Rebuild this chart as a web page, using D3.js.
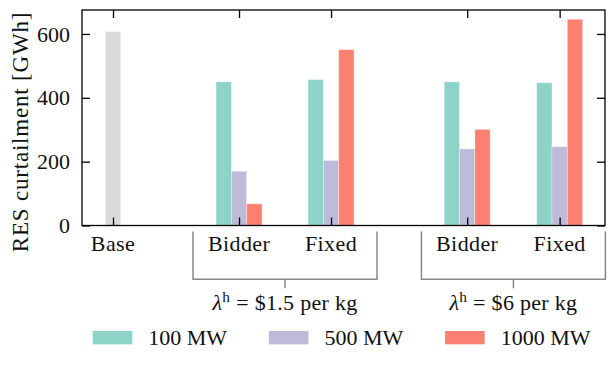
<!DOCTYPE html>
<html>
<head>
<meta charset="utf-8">
<script src="https://cdn.jsdelivr.net/npm/d3@7"></script>
<style>
  html, body { margin: 0; padding: 0; background: #fff; }
  text { font-family: "Liberation Serif", "Times New Roman", serif; fill: #111; }
</style>
</head>
<body>
<svg id="chart" width="615" height="366"></svg>
<script>
// ---- data ----
const categories = ["Base", "Bidder", "Fixed", "Bidder", "Fixed"];
const baseValues = [607, null, null, null, null];
const series100 = [null, 450, 457, 450, 447];
const series500 = [null, 170, 204, 240, 247];
const series1000 = [null, 68, 551, 301, 646];
const seriesNames = ["100 MW", "500 MW", "1000 MW"];
const yTicks = [0, 200, 400, 600];
const groupPrices = ["$1.5 per kg", "$6 per kg"];
const groupMembers = [[1, 2], [3, 4]];

// ---- layout ----
const catPos = [0, 1.37, 2.37, 3.85, 4.855];
const colors = ["#8dd3c7", "#bebada", "#fb8072"];
const baseColor = "#d9d9d9";
const plot = { left: 82, right: 605, top: 10, bottom: 225.5 };
const fontSize = 22;

const svg = d3.select("#chart");
const x = d3.scaleLinear().domain([-0.337, 5.348]).range([plot.left, plot.right]);
const y = d3.scaleLinear().domain([0, 675]).range([plot.bottom, plot.top]);
const barW = 1 / 6;

// bars
const allSeries = [series100, series500, series1000];
const g = svg.append("g");
allSeries.forEach((s, si) => {
  g.selectAll(null).data(s.map((v, i) => ({ v, i })).filter(d => d.v != null))
    .enter().append("rect")
    .attr("x", d => x(catPos[d.i] + (si - 1.5) * barW))
    .attr("width", x(barW) - x(0))
    .attr("y", d => y(d.v))
    .attr("height", d => y(0) - y(d.v))
    .attr("fill", colors[si])
    .attr("stroke", "#ffffff").attr("stroke-opacity", 0.45).attr("stroke-width", 0.8);
});
g.selectAll(null).data(baseValues.map((v, i) => ({ v, i })).filter(d => d.v != null))
  .enter().append("rect")
  .attr("x", d => x(catPos[d.i] - barW / 2))
  .attr("width", x(barW) - x(0))
  .attr("y", d => y(d.v))
  .attr("height", d => y(0) - y(d.v))
  .attr("fill", baseColor)
  .attr("stroke", "#ffffff").attr("stroke-opacity", 0.45).attr("stroke-width", 0.8);

// axes (ticks inward on all sides)
const tickLen = 8;
const axLeft = svg.append("g").attr("transform", `translate(${plot.left},0)`)
  .call(d3.axisRight(y).tickValues(yTicks).tickSize(tickLen).tickFormat(""));
const axRight = svg.append("g").attr("transform", `translate(${plot.right},0)`)
  .call(d3.axisLeft(y).tickValues(yTicks).tickSize(tickLen).tickFormat(""));
const axBottom = svg.append("g").attr("transform", `translate(0,${plot.bottom})`)
  .call(d3.axisTop(x).tickValues(catPos).tickSize(tickLen).tickFormat(""));
const axTop = svg.append("g").attr("transform", `translate(0,${plot.top})`)
  .call(d3.axisBottom(x).tickValues(catPos).tickSize(tickLen).tickFormat(""));
[axLeft, axRight, axBottom, axTop].forEach(a => {
  a.select(".domain").remove();
  a.selectAll(".tick line").attr("stroke", "#000").attr("stroke-width", 1.3);
});

// frame
svg.append("rect")
  .attr("x", plot.left).attr("y", plot.top)
  .attr("width", plot.right - plot.left).attr("height", plot.bottom - plot.top)
  .attr("fill", "none").attr("stroke", "#000").attr("stroke-width", 1.3);

// y tick labels
svg.selectAll(null).data(yTicks).enter().append("text")
  .attr("x", plot.left - 12).attr("y", d => y(d))
  .attr("dy", "0.35em")
  .attr("text-anchor", "end").attr("font-size", fontSize)
  .text(d => d);

// x tick labels
svg.selectAll(null).data(categories).enter().append("text")
  .attr("x", (d, i) => x(catPos[i])).attr("y", 251)
  .attr("text-anchor", "middle").attr("font-size", fontSize)
  .attr("letter-spacing", 0.4)
  .text(d => d);

// y label
svg.append("text")
  .attr("transform", `translate(28,132) rotate(-90)`)
  .attr("text-anchor", "middle").attr("font-size", 23)
  .attr("letter-spacing", 0.8)
  .text("RES curtailment [GWh]");

// group brackets
groupMembers.forEach((mem, gi) => {
  const cx = x((catPos[mem[0]] + catPos[mem[1]]) / 2);
  const half = x(1.0) - x(0);
  const l = cx - half, r = cx + half;
  svg.append("path")
    .attr("d", `M${l},231.5 V279.3 H${r} V231.5 M${cx},279.3 V288.3`)
    .attr("fill", "none").attr("stroke", "#888").attr("stroke-width", 1.5);
  const t = svg.append("text").attr("x", cx).attr("y", 310)
    .attr("text-anchor", "middle").attr("font-size", fontSize)
    .attr("letter-spacing", 0.3);
  t.append("tspan").attr("font-style", "italic").text("λ");
  t.append("tspan").attr("font-size", fontSize * 0.7).attr("dy", -8).text("h");
  t.append("tspan").attr("dy", 8).text(" = " + groupPrices[gi]);
});

// legend
seriesNames.forEach((name, i) => {
  const lx = 92.7 + i * 176.2;
  svg.append("rect").attr("x", lx).attr("y", 331).attr("width", 39.6).attr("height", 13.3)
    .attr("fill", colors[i]);
  svg.append("text").attr("x", lx + 55.6).attr("y", 345)
    .attr("font-size", fontSize).text(name);
});
</script>
</body>
</html>
